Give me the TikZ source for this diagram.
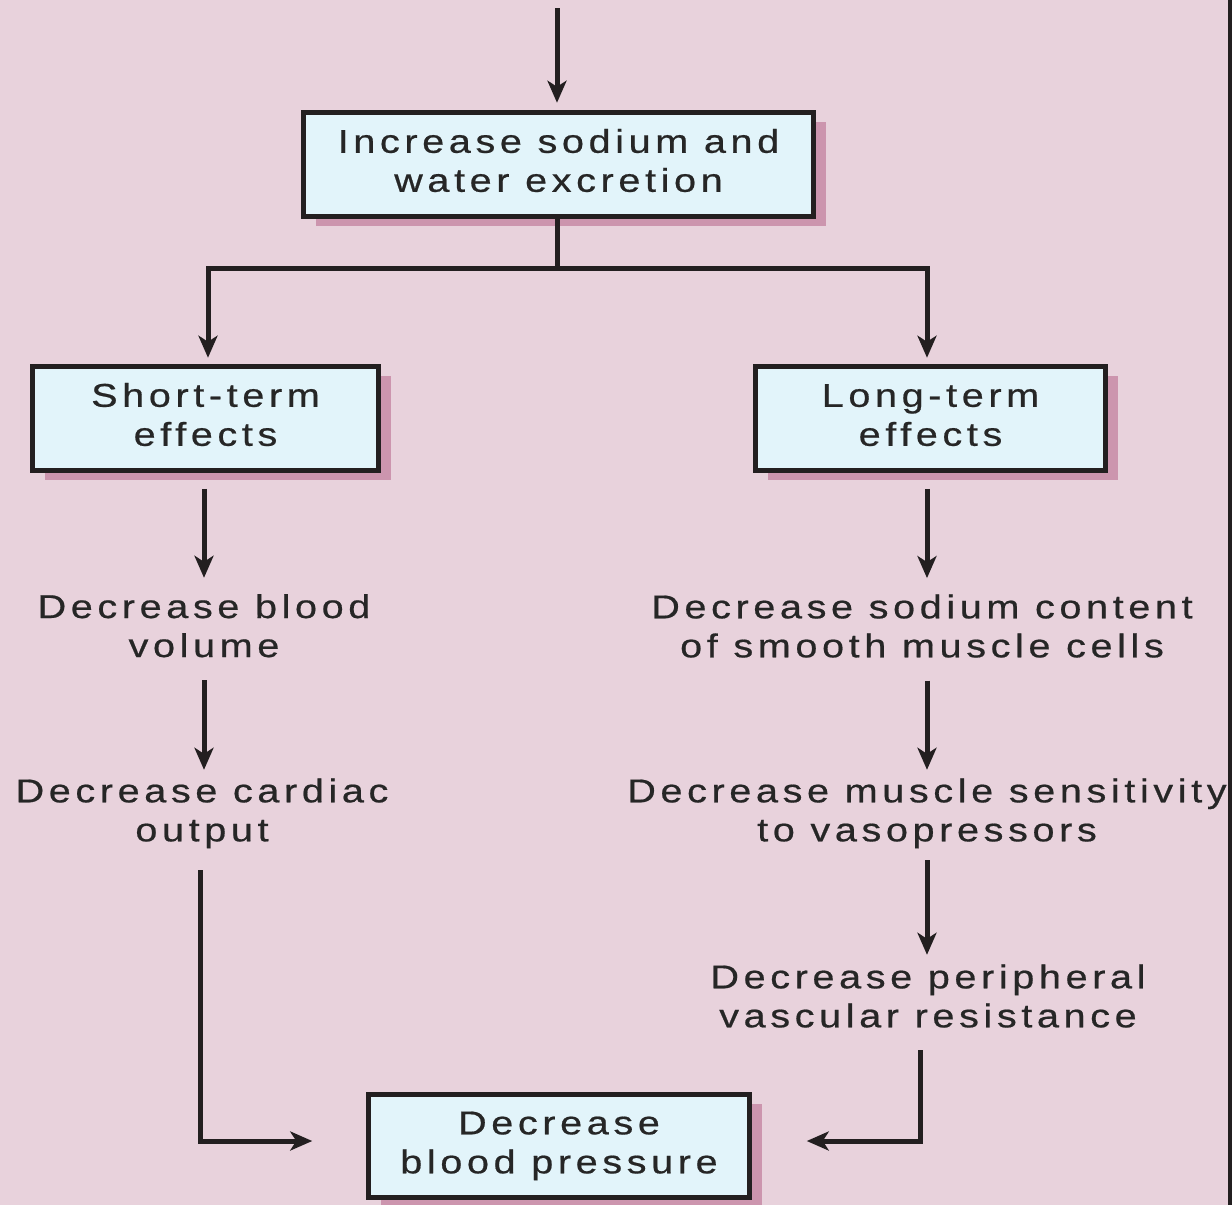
\documentclass[tikz,border=0pt]{standalone}
\usepackage{fontspec}
\setmainfont{Liberation Sans}[LetterSpace=14,FakeStretch=1.2,FakeBold=0.6]
\usetikzlibrary{arrows.meta,shadows,calc}
\definecolor{bgc}{HTML}{E8D2DC}
\definecolor{boxc}{HTML}{E2F4FA}
\definecolor{shc}{HTML}{CC95AE}
\definecolor{linec}{HTML}{231F20}
\definecolor{txtc}{HTML}{262626}
\begin{document}
\begin{tikzpicture}[x=1pt,y=-1pt,
  lbl/.style={font=\fontsize{33}{39}\selectfont, text=txtc, align=center, inner sep=0pt},
  box/.style={lbl, draw=linec, line width=5.5pt, fill=boxc,
    drop shadow={shadow xshift=12pt, shadow yshift=-9pt, fill=shc, opacity=1}},
  arr/.style={draw=linec, line width=5pt, -{Stealth[length=22pt,width=19pt,inset=6pt]}},
  ln/.style={draw=linec, line width=5pt}]
\useasboundingbox (0,0) rectangle (1232,1205);
\fill[bgc] (0,0) rectangle (1232,1205);
\fill[linec] (1228,0) rectangle (1232,1205);

\node[box, minimum width=510pt, minimum height=104pt] (inc) at (558.5,164.5)
  {\strut Increase sodium and\\ water excretion\strut};
\node[box, minimum width=346pt, minimum height=104pt] (short) at (205.5,418.5)
  {\strut Short-term\\ effects\strut};
\node[box, minimum width=350pt, minimum height=104pt] (long) at (930.5,418.5)
  {\strut Long-term\\ effects\strut};
\node[box, minimum width=381pt, minimum height=103pt] (bp) at (559,1146)
  {\strut Decrease\\ blood pressure\strut};

\node[lbl] (t1) at (204,629.7) {\strut Decrease blood\\ volume\strut};
\node[lbl] (t2) at (202,814) {\strut Decrease cardiac\\ output\strut};
\node[lbl] (t3) at (922,630) {\strut Decrease sodium content\\ of smooth muscle cells\strut};
\node[lbl] (t4) at (927,814) {\strut Decrease muscle sensitivity\\ to vasopressors\strut};
\node[lbl] (t5) at (928,1000) {\strut Decrease peripheral\\ vascular resistance\strut};

\coordinate (top) at (557,8);
\coordinate (br) at (557,268);
\draw[arr] (top) -- ($(inc.north -| top)+(0,-7)$);
\draw[ln] (inc.south -| br) -- (br);
\draw[arr] (br) -| ($(short.north)+(2.5,-6)$);
\draw[arr] (br) -| ($(long.north)+(-3.5,-6)$);

\draw[arr] ($(short.south -| t1)+(0,15.5)$) -- ($(t1.north)+(0,-12.7)$);
\draw[arr] ($(t1.south)+(0,11.3)$) -- ($(t2.north -| t1)+(0,-5)$);
\draw[arr] ($(t2.south)+(-2,17)$) |- ($(bp.west)+(-53.5,-5)$);

\draw[arr] ($(long.south)+(-3.5,15.5)$) -- ($(t3.north -| long.south)+(-3.5,-12.7)$);
\draw[arr] ($(t3.south -| t4)+(0,11.3)$) -- ($(t4.north)+(0,-5)$);
\draw[arr] ($(t4.south)+(0,7)$) -- ($(t5.north -| t4)+(0,-6)$);
\draw[arr] ($(t5.south)+(-8,11)$) |- ($(bp.east)+(54.5,-5)$);
\end{tikzpicture}
\end{document}
